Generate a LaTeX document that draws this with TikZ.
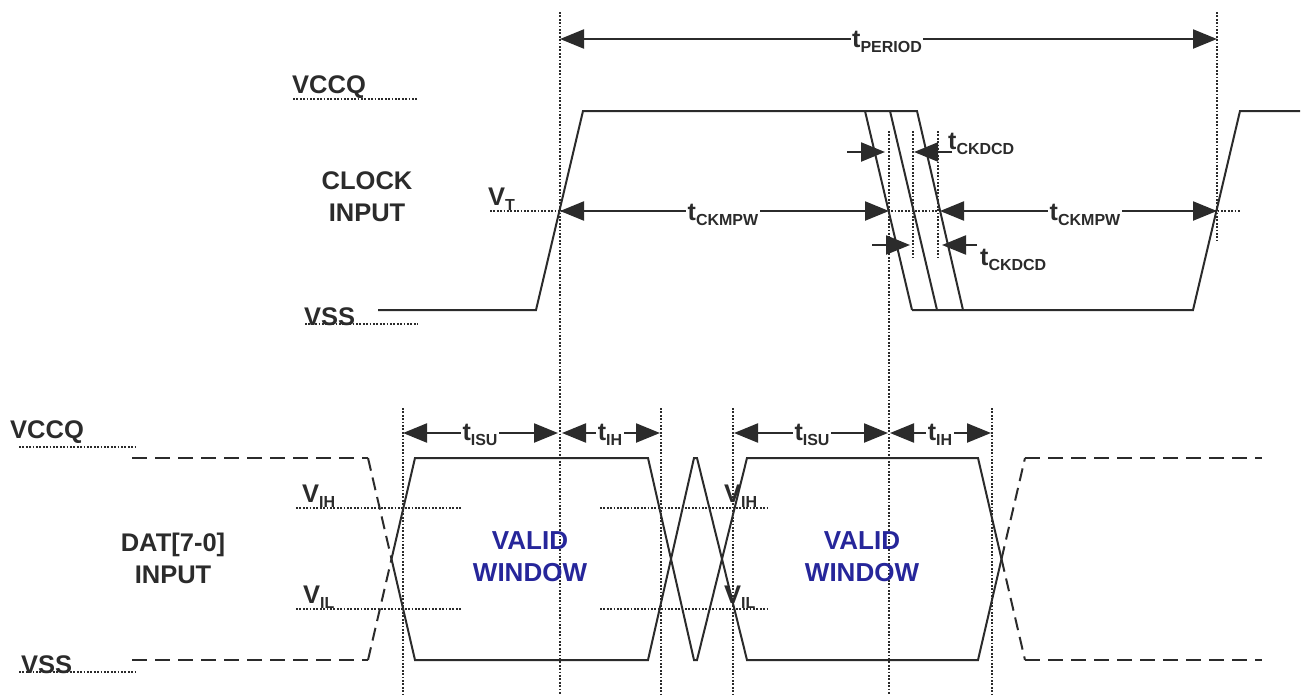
\documentclass[tikz,border=0pt]{standalone}
\usepackage{fontspec}
\setmainfont{Liberation Sans}
\usetikzlibrary{arrows.meta}
\definecolor{ink}{HTML}{2B2B2B}
\definecolor{validblue}{HTML}{26269A}
\newcommand{\tsub}[2]{#1\raisebox{-0.2em}{\fontsize{16}{16}\selectfont #2}}
\tikzset{
  wave/.style={draw=ink,line width=2pt,line join=miter},
  wavedash/.style={draw=ink,line width=2pt,dash pattern=on 15pt off 8pt},
  dots/.style={draw=ink,line width=1.6pt,dash pattern=on 1.7pt off 1.7pt},
  dimarrow/.style={draw=ink,line width=2.2pt,{Triangle[length=24pt,width=19pt]}-{Triangle[length=24pt,width=19pt]}},
  onearrow/.style={draw=ink,line width=2.2pt,-{Triangle[length=24pt,width=19pt]}},
  lbl/.style={text=ink,font=\bfseries\fontsize{25}{28}\selectfont,inner sep=0pt,align=center},
  dimlbl/.style={lbl,fill=white,inner sep=1.5pt},
  validlbl/.style={text=validblue,font=\bfseries\fontsize{26}{32}\selectfont,inner sep=0pt,align=center},
  caplbl/.style={text=ink,font=\bfseries\fontsize{25.5}{32}\selectfont,inner sep=0pt,align=center}
}
\begin{document}
\begin{tikzpicture}[x=1pt,y=-1pt]
\useasboundingbox (0,0) rectangle (1304,694);
% ---- vertical guides
\foreach \n/\x/\a/\b in {g1/560/12/694,g2/889/131/694,g3/913/131/257,g4/938/131/257,g5/1217/12/240,
  d1/403/408/694,d3/661/408/694,d4/733/408/694,d6/992/408/694}{
  \coordinate (\n t) at (\x,\a); \coordinate (\n b) at (\x,\b);
  \draw[dots] (\n t) -- (\n b);
}
% ---- horizontal guides
\foreach \n/\xa/\xb/\y in {vt/490/1240/211,ua/293/418/99,ub/305/418/324,uc/19/137/447,ud/19/137/672,
  ih1/296/462/508,il1/296/462/609,ih2/600/767/508,il2/600/767/609}{
  \coordinate (\n l) at (\xa,\y); \coordinate (\n r) at (\xb,\y);
  \draw[dots] (\n l) -- (\n r);
}
% ---- clock waveform
\coordinate (c0) at (378,310); \coordinate (c1) at (536,310); \coordinate (c2) at (583,111);
\coordinate (c3) at (917,111); \coordinate (c4) at (963,310); \coordinate (c5) at (912,310);
\coordinate (c6) at (1193,310); \coordinate (c7) at (1240,111); \coordinate (c8) at (1300,111);
\coordinate (m1) at (865,111); \coordinate (m2) at (890,111); \coordinate (m3) at (937,310);
\draw[wave] (c0) -- (c1) -- (c2) -- (c3) -- (c4);
\draw[wave] (c5) -- (c6) -- (c7) -- (c8);
\draw[wave] (m1) -- (c5);
\draw[wave] (m2) -- (m3);
% ---- data waveform
\coordinate (a0) at (132,458); \coordinate (a1) at (368,458); \coordinate (a2) at (391.5,559);
\coordinate (a3) at (415,660); \coordinate (a4) at (648,660); \coordinate (a5a) at (694,458);
\coordinate (a5b) at (697,458);
\coordinate (a6) at (747,660); \coordinate (a7) at (978,660); \coordinate (a8) at (1001.5,559);
\coordinate (a9) at (1025,458); \coordinate (a10) at (1262,458);
\coordinate (b0) at (132,660); \coordinate (b1) at (368,660); \coordinate (b3) at (415,458);
\coordinate (b4) at (648,458); \coordinate (b5a) at (694,660); \coordinate (b5b) at (697,660);
\coordinate (b6) at (747,458);
\coordinate (b7) at (978,458); \coordinate (b9) at (1025,660); \coordinate (b10) at (1262,660);
\draw[wavedash] (a0) -- (a1);
\draw[wavedash] (b0) -- (b1);
\draw[wavedash,dash pattern=on 13pt off 7pt] (a1) -- (a2);
\draw[wavedash,dash pattern=on 13pt off 7pt] (b1) -- (a2);
\draw[wave] (a2) -- (a3) -- (a4) -- (a5a) -- (a5b) -- (a6) -- (a7) -- (a8);
\draw[wave] (a2) -- (b3) -- (b4) -- (b5a) -- (b5b) -- (b6) -- (b7) -- (a8);
\draw[wavedash,dash pattern=on 13pt off 7pt] (a8) -- (a9);
\draw[wavedash,dash pattern=on 13pt off 7pt] (a8) -- (b9);
\draw[wavedash] (a9) -- (a10);
\draw[wavedash] (b9) -- (b10);
% ---- dimension arrows
\coordinate (p1) at (560,39); \coordinate (p2) at (1217,39);
\draw[dimarrow] (p1) -- (p2);
\coordinate (w1) at (560,211); \coordinate (w2) at (889,211);
\coordinate (w3) at (940,211); \coordinate (w4) at (1217,211);
\draw[dimarrow] (w1) -- (w2);
\draw[dimarrow] (w3) -- (w4);
\coordinate (k1) at (847,152); \coordinate (k2) at (885,152);
\coordinate (k3) at (952,152); \coordinate (k4) at (914,152);
\coordinate (k5) at (872,245); \coordinate (k6) at (910,245);
\coordinate (k7) at (977,245); \coordinate (k8) at (942,245);
\draw[onearrow] (k1) -- (k2);
\draw[onearrow] (k3) -- (k4);
\draw[onearrow] (k5) -- (k6);
\draw[onearrow] (k7) -- (k8);
\foreach \n/\xa/\xb in {s1/403/558,s2/562/660,s3/734/888,s4/890/991}{
  \coordinate (\n l) at (\xa,433); \coordinate (\n r) at (\xb,433);
  \draw[dimarrow] (\n l) -- (\n r);
}
% ---- labels on the arrows
\node[dimlbl] (tper) at (887,42) {\tsub{t}{PERIOD}};
\node[dimlbl] (tmp1) at (723,215) {\tsub{t}{CKMPW}};
\node[dimlbl] (tmp2) at (1085,215) {\tsub{t}{CKMPW}};
\node[dimlbl] (tsu1) at (480,435) {\tsub{t}{ISU}};
\node[dimlbl] (tih1) at (610,435) {\tsub{t}{IH}};
\node[dimlbl] (tsu2) at (812,435) {\tsub{t}{ISU}};
\node[dimlbl] (tih2) at (940,435) {\tsub{t}{IH}};
% ---- free labels
\node[lbl,anchor=west] (tck1) at (948,144) {\tsub{t}{CKDCD}};
\node[lbl,anchor=west] (tck2) at (980,260) {\tsub{t}{CKDCD}};
\node[caplbl,anchor=west] (vcc1) at (292,87) {VCCQ};
\node[caplbl,anchor=west] (vss1) at (304,317) {VSS};
\node[caplbl,anchor=west] (vcc2) at (10,432) {VCCQ};
\node[caplbl,anchor=west] (vss2) at (21,665) {VSS};
\node[caplbl] (clk) at (367,197) {CLOCK\\INPUT};
\node[caplbl] (dat) at (173,558) {DAT[7-0]\\INPUT};
\node[caplbl,anchor=west] (vt) at (488,199) {\tsub{V}{T}};
\node[caplbl,anchor=west] (vih1) at (302,496) {\tsub{V}{IH}};
\node[caplbl,anchor=west] (vil1) at (303,597) {\tsub{V}{IL}};
\node[caplbl,anchor=west] (vih2) at (724,496) {\tsub{V}{IH}};
\node[caplbl,anchor=west] (vil2) at (724,597) {\tsub{V}{IL}};
\node[validlbl] (vw1) at (530,557) {VALID\\WINDOW};
\node[validlbl] (vw2) at (862,557) {VALID\\WINDOW};
\end{tikzpicture}
\end{document}
